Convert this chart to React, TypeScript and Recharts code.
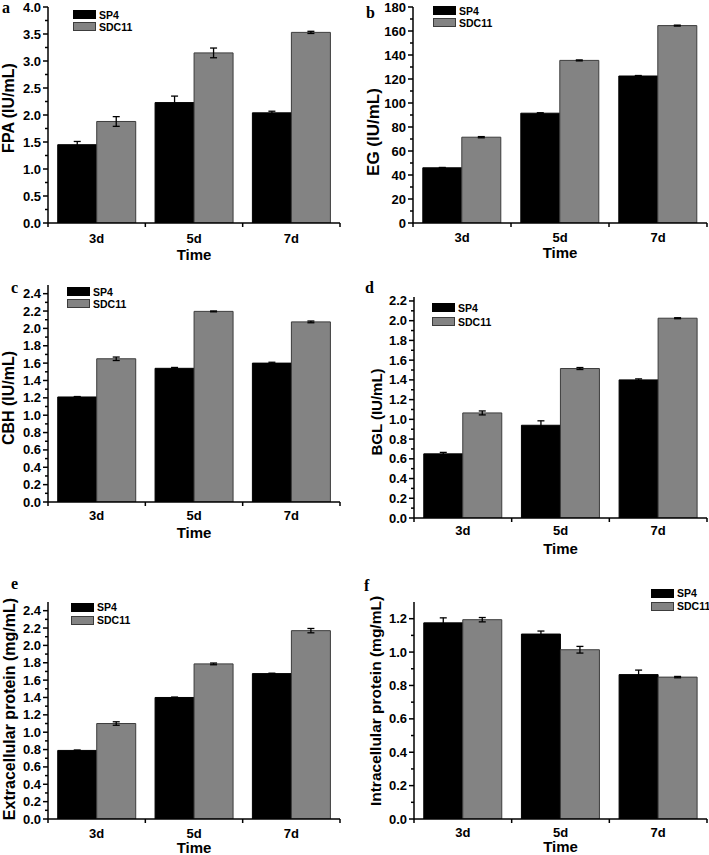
import React from 'react';
import { BarChart, Bar, XAxis, YAxis, ErrorBar, Legend, Label } from 'recharts';

// ---------- data ----------
const categories = ['3d', '5d', '7d'];
const seriesNames = ['SP4', 'SDC11'];

const fpaSP4 = [1.45, 2.23, 2.04];
const fpaSP4Err = [0.06, 0.12, 0.03];
const fpaSDC11 = [1.88, 3.15, 3.53];
const fpaSDC11Err = [0.09, 0.09, 0.02];
const fpaTicks = [0, 0.5, 1.0, 1.5, 2.0, 2.5, 3.0, 3.5, 4.0];
const fpaMinorTicks = [0.25, 0.75, 1.25, 1.75, 2.25, 2.75, 3.25, 3.75];

const egSP4 = [46, 91.5, 122.5];
const egSP4Err = [0.3, 0.4, 0.4];
const egSDC11 = [71.5, 135.5, 164.5];
const egSDC11Err = [0.5, 0.4, 0.4];
const egTicks = [0, 20, 40, 60, 80, 100, 120, 140, 160, 180];
const egMinorTicks = [10, 30, 50, 70, 90, 110, 130, 150, 170];

const cbhSP4 = [1.21, 1.54, 1.6];
const cbhSP4Err = [0.005, 0.01, 0.01];
const cbhSDC11 = [1.65, 2.196, 2.075];
const cbhSDC11Err = [0.02, 0.005, 0.01];
const cbhTicks = [0, 0.2, 0.4, 0.6, 0.8, 1.0, 1.2, 1.4, 1.6, 1.8, 2.0, 2.2, 2.4];
const cbhMinorTicks = [0.1, 0.3, 0.5, 0.7, 0.9, 1.1, 1.3, 1.5, 1.7, 1.9, 2.1, 2.3];

const bglSP4 = [0.65, 0.94, 1.4];
const bglSP4Err = [0.015, 0.045, 0.01];
const bglSDC11 = [1.065, 1.515, 2.025];
const bglSDC11Err = [0.02, 0.01, 0.005];
const bglTicks = [0, 0.2, 0.4, 0.6, 0.8, 1.0, 1.2, 1.4, 1.6, 1.8, 2.0, 2.2];
const bglMinorTicks = [0.1, 0.3, 0.5, 0.7, 0.9, 1.1, 1.3, 1.5, 1.7, 1.9, 2.1];

const extSP4 = [0.79, 1.4, 1.675];
const extSP4Err = [0.005, 0.005, 0.005];
const extSDC11 = [1.1, 1.787, 2.17];
const extSDC11Err = [0.02, 0.01, 0.025];
const extTicks = [0, 0.2, 0.4, 0.6, 0.8, 1.0, 1.2, 1.4, 1.6, 1.8, 2.0, 2.2, 2.4];
const extMinorTicks = [0.1, 0.3, 0.5, 0.7, 0.9, 1.1, 1.3, 1.5, 1.7, 1.9, 2.1, 2.3];

const intSP4 = [1.175, 1.108, 0.865];
const intSP4Err = [0.03, 0.018, 0.027];
const intSDC11 = [1.194, 1.014, 0.85];
const intSDC11Err = [0.013, 0.02, 0.004];
const intTicks = [0, 0.2, 0.4, 0.6, 0.8, 1.0, 1.2];
const intMinorTicks = [0.1, 0.3, 0.5, 0.7, 0.9, 1.1];

const panelLetters = ['a', 'b', 'c', 'd', 'e', 'f'];
const yTitles = [
  'FPA (IU/mL)',
  'EG (IU/mL)',
  'CBH (IU/mL)',
  'BGL (IU/mL)',
  'Extracellular protein (mg/mL)',
  'Intracellular protein (mg/mL)',
];
const xTitle = 'Time';

const makeRows = (a: number[], ae: number[], b: number[], be: number[]) =>
  categories.map((cat, i) => ({ cat, sp4: a[i], sp4Err: ae[i], sdc11: b[i], sdc11Err: be[i] }));

// ---------- styling / layout ----------
const SANS = "'Liberation Sans', Arial, Helvetica, sans-serif";
const SERIF = "'Liberation Serif', 'Times New Roman', serif";
const BLACK = '#000000';
const GRAY = '#838383';
const GRAY_EDGE = '#3c3c3c';

type PanelCfg = {
  rows: any[];
  ticks: number[];
  minor: number[];
  domain: [number, number];
  decimals: number;
  title: string;
  letter: string;
  left: number;
  top: number;
  w: number;
  h: number;
  pl: number;
  pt: number;
  pr: number;
  pb: number;
  ylx: number;
  yly: number;
  yFont: number;
  legX: number;
  legY: number;
  legRow: number;
  letX: number;
  letY: number;
  tickDy: number;
  timeDy: number;
};

const panels: PanelCfg[] = [
  {
    rows: makeRows(fpaSP4, fpaSP4Err, fpaSDC11, fpaSDC11Err),
    ticks: fpaTicks, minor: fpaMinorTicks, domain: [0, 4], decimals: 1,
    title: yTitles[0], letter: panelLetters[0],
    left: 0, top: 0, w: 354, h: 280, pl: 48, pt: 7, pr: 340, pb: 223,
    ylx: 8.5, yly: 108, yFont: 16, legX: 73, legY: 10, legRow: 12, letX: 2, letY: 13, tickDy: 15, timeDy: 32,
  },
  {
    rows: makeRows(egSP4, egSP4Err, egSDC11, egSDC11Err),
    ticks: egTicks, minor: egMinorTicks, domain: [0, 180], decimals: 0,
    title: yTitles[1], letter: panelLetters[1],
    left: 354, top: 0, w: 355, h: 280, pl: 413, pt: 7, pr: 707, pb: 223,
    ylx: 19, yly: 132, yFont: 17, legX: 79, legY: 6, legRow: 12, letX: 366, letY: 18, tickDy: 14, timeDy: 30,
  },
  {
    rows: makeRows(cbhSP4, cbhSP4Err, cbhSDC11, cbhSDC11Err),
    ticks: cbhTicks, minor: cbhMinorTicks, domain: [0, 2.5], decimals: 1,
    title: yTitles[2], letter: panelLetters[2],
    left: 0, top: 280, w: 354, h: 290, pl: 48, pt: 285, pr: 340, pb: 502,
    ylx: 8.5, yly: 118, yFont: 16, legX: 67, legY: 7, legRow: 12, letX: 11, letY: 293, tickDy: 13, timeDy: 31,
  },
  {
    rows: makeRows(bglSP4, bglSP4Err, bglSDC11, bglSDC11Err),
    ticks: bglTicks, minor: bglMinorTicks, domain: [0, 2.24], decimals: 1,
    title: yTitles[3], letter: panelLetters[3],
    left: 354, top: 280, w: 355, h: 290, pl: 414, pt: 297, pr: 707, pb: 518,
    ylx: 23, yly: 132, yFont: 15, legX: 78, legY: 23, legRow: 14, letX: 365, letY: 293, tickDy: 12, timeDy: 31,
  },
  {
    rows: makeRows(extSP4, extSP4Err, extSDC11, extSDC11Err),
    ticks: extTicks, minor: extMinorTicks, domain: [0, 2.5], decimals: 1,
    title: yTitles[4], letter: panelLetters[4],
    left: 0, top: 570, w: 354, h: 285, pl: 48, pt: 602, pr: 340, pb: 819,
    ylx: 9, yly: 139, yFont: 16, legX: 71, legY: 33, legRow: 13, letX: 11, letY: 589, tickDy: 14, timeDy: 29,
  },
  {
    rows: makeRows(intSP4, intSP4Err, intSDC11, intSDC11Err),
    ticks: intTicks, minor: intMinorTicks, domain: [0, 1.3], decimals: 1,
    title: yTitles[5], letter: panelLetters[5],
    left: 354, top: 570, w: 355, h: 285, pl: 414, pt: 602, pr: 707, pb: 819,
    ylx: 21.5, yly: 131, yFont: 15.5, legX: 297, legY: 19, legRow: 13, letX: 364, letY: 591, tickDy: 13, timeDy: 28,
  },
];

const isMajorTick = (v: number, majors: number[]) => majors.some((m) => Math.abs(m - v) < 1e-9);

const makeYTick = (cfg: PanelCfg) => (props: any) => {
  const { x, y, payload } = props;
  const v = payload.value;
  const major = isMajorTick(v, cfg.ticks);
  return (
    <g>
      <line x1={x - (major ? 5 : 3)} x2={x} y1={y} y2={y} stroke={BLACK} strokeWidth={1.5} />
      {major && (
        <text x={x - 7} y={y} dy="0.35em" textAnchor="end" fontFamily={SANS} fontWeight="bold" fontSize={13} fill={BLACK}>
          {v.toFixed(cfg.decimals)}
        </text>
      )}
    </g>
  );
};

const makeXTick = (cfg: PanelCfg) => (props: any) => {
  const { x, y, payload, index } = props;
  const band = (cfg.pr - cfg.pl) / categories.length;
  const last = index === categories.length - 1;
  return (
    <g>
      <line x1={x - band / 2} x2={x - band / 2} y1={y} y2={y + 4} stroke={BLACK} strokeWidth={1.5} />
      {last && <line x1={x + band / 2} x2={x + band / 2} y1={y} y2={y + 4} stroke={BLACK} strokeWidth={1.5} />}
      <text x={x} y={y + cfg.tickDy} dy="0.35em" textAnchor="middle" fontFamily={SANS} fontWeight="bold" fontSize={13} fill={BLACK}>
        {payload.value}
      </text>
    </g>
  );
};

const makeLegend = (cfg: PanelCfg) => (props: any) => {
  const payload = [...(props.payload || [])].sort(
    (a: any, b: any) => seriesNames.indexOf(a.value) - seriesNames.indexOf(b.value)
  );
  return (
    <div style={{ fontFamily: SANS, fontWeight: 'bold', fontSize: 10.5, color: BLACK, whiteSpace: 'nowrap' }}>
      {payload.map((e: any, i: number) => (
        <div key={i} style={{ display: 'flex', alignItems: 'center', height: cfg.legRow, lineHeight: `${cfg.legRow}px` }}>
          <span
            style={{
              display: 'inline-block',
              width: 23,
              height: 9,
              background: e.color,
              border: `1px solid ${i === 0 ? BLACK : GRAY_EDGE}`,
              boxSizing: 'border-box',
              marginRight: 3,
            }}
          />
          <span>{e.value}</span>
        </div>
      ))}
    </div>
  );
};

const Panel = ({ cfg }: { cfg: PanelCfg }) => {
  const yAxisWidth = cfg.pl - cfg.left;
  const xAxisHeight = cfg.top + cfg.h - cfg.pb;
  const margin = { top: cfg.pt - cfg.top, right: cfg.left + cfg.w - cfg.pr, bottom: 0, left: 0 };
  const allTicks = [...cfg.ticks, ...cfg.minor].sort((a, b) => a - b);
  const ylx = cfg.ylx;
  const yly = cfg.yly;
  return (
    <div style={{ position: 'absolute', left: cfg.left, top: cfg.top, width: cfg.w, height: cfg.h }}>
      <BarChart width={cfg.w} height={cfg.h} data={cfg.rows} margin={margin} barCategoryGap="10%" barGap={0}>
        <XAxis
          dataKey="cat"
          type="category"
          height={xAxisHeight}
          interval={0}
          tickSize={0}
          tickMargin={0}
          tickLine={false}
          axisLine={{ stroke: BLACK, strokeWidth: 1.5 }}
          tick={makeXTick(cfg)}
        >
          <Label
            content={(p: any) => {
              const vb = p.viewBox || {};
              return (
                <text
                  x={vb.x + vb.width / 2}
                  y={vb.y + cfg.timeDy}
                  dy="0.35em"
                  textAnchor="middle"
                  fontFamily={SANS}
                  fontWeight="bold"
                  fontSize={15}
                  fill={BLACK}
                >
                  {xTitle}
                </text>
              );
            }}
          />
        </XAxis>
        <YAxis
          type="number"
          domain={cfg.domain}
          allowDataOverflow
          ticks={allTicks}
          interval={0}
          width={yAxisWidth}
          tickSize={0}
          tickMargin={0}
          tickLine={false}
          axisLine={{ stroke: BLACK, strokeWidth: 1.5 }}
          tick={makeYTick(cfg)}
        >
          <Label
            content={() => (
              <text
                x={ylx}
                y={yly}
                dy="0.35em"
                transform={`rotate(-90, ${ylx}, ${yly})`}
                textAnchor="middle"
                fontFamily={SANS}
                fontWeight="bold"
                fontSize={cfg.yFont}
                fill={BLACK}
              >
                {cfg.title}
              </text>
            )}
          />
        </YAxis>
        <Legend
          layout="vertical"
          align="center"
          verticalAlign="middle"
          content={makeLegend(cfg)}
          wrapperStyle={{ left: cfg.legX, top: cfg.legY - (cfg.legRow - 9) / 2, width: 'auto', height: 'auto', margin: 0 }}
        />
        <Bar dataKey="sp4" name={seriesNames[0]} fill={BLACK} stroke={BLACK} strokeWidth={1} isAnimationActive={false}>
          <ErrorBar dataKey="sp4Err" direction="y" width={3.5} stroke={BLACK} strokeWidth={1.3} />
        </Bar>
        <Bar dataKey="sdc11" name={seriesNames[1]} fill={GRAY} stroke={GRAY_EDGE} strokeWidth={1} isAnimationActive={false}>
          <ErrorBar dataKey="sdc11Err" direction="y" width={3.5} stroke={BLACK} strokeWidth={1.3} />
        </Bar>
      </BarChart>
    </div>
  );
}

export default function App() {
  return (
    <div style={{ position: 'absolute', left: 0, top: 0, width: 709, height: 855, background: '#fff', overflow: 'hidden' }}>
      {panels.map((cfg, i) => (
        <Panel key={i} cfg={cfg} />
      ))}
      <svg width={709} height={855} style={{ position: 'absolute', left: 0, top: 0, pointerEvents: 'none' }}>
        {panels.map((cfg, i) => (
          <text key={i} x={cfg.letX} y={cfg.letY} fontFamily={SERIF} fontWeight="bold" fontSize={16} fill={BLACK}>
            {cfg.letter}
          </text>
        ))}
      </svg>
    </div>
  );
}
